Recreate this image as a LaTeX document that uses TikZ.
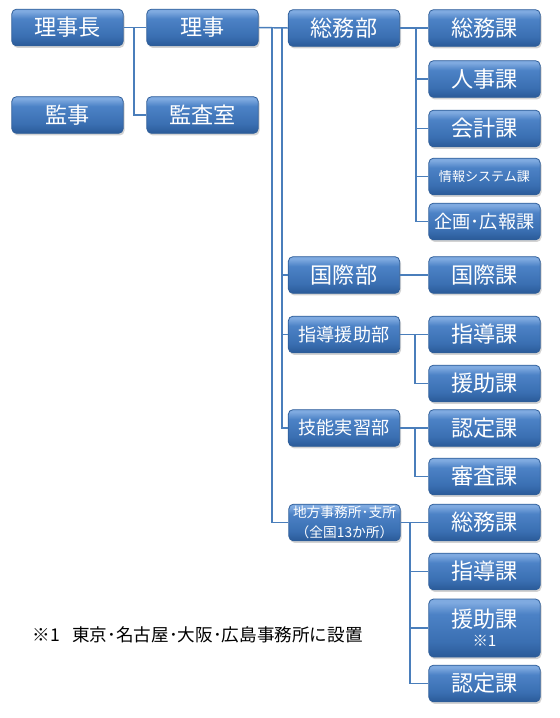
\documentclass[tikz,border=0pt]{standalone}
\usepackage{fontspec}
\newfontfamily\jpfont{Noto Sans CJK JP}
\usepackage{xcolor}
\definecolor{boxtop}{HTML}{7FAAE0}
\definecolor{boxmid}{HTML}{4C82C6}
\definecolor{boxlow}{HTML}{3A6FB2}
\definecolor{boxbot}{HTML}{2A5A98}
\definecolor{boxedge}{HTML}{2F5E99}
\definecolor{linkblue}{HTML}{4A7EBB}
\usetikzlibrary{shadows,calc}
\pgfdeclareverticalshading{gloss}{100bp}{color(0bp)=(boxbot); color(25bp)=(boxbot); color(38bp)=(boxlow); color(62bp)=(boxmid); color(72bp)=(boxtop); color(100bp)=(boxtop)}
\tikzset{
  unit/.style={draw=boxedge,line width=0.6pt,rounded corners=3.5pt,shading=gloss,
    text=white,font=\jpfont\fontsize{16.6}{18}\selectfont,
    minimum width=83.5pt,minimum height=27.5pt,inner sep=0pt,align=center,
    drop shadow={opacity=0.35,shadow xshift=1pt,shadow yshift=-1.6pt}},
  midunit/.style={unit,font=\jpfont\fontsize{13.6}{15}\selectfont},
  link/.style={draw=linkblue,line width=1.1pt}
}
\begin{document}
\begin{tikzpicture}[x=0.75pt,y=-0.75pt]
  \useasboundingbox (0,0) rectangle (560,718);
  % top management
  \node[unit] (rijicho) at (67.5,27.5) {理事長};
  \node[unit] (riji) at (202.5,27.5) {理事};
  \node[unit] (kanji) at (67.5,115) {監事};
  \node[unit] (kansashitsu) at (202.5,115) {監査室};
  % departments
  \node[unit] (somubu) at (344,28) {総務部};
  \node[unit] (kokusaibu) at (344,275) {国際部};
  \node[midunit] (shidobu) at (344,334.5) {指導援助部};
  \node[midunit] (ginobu) at (344,428) {技能実習部};
  \node[unit,font=\jpfont\fontsize{10.3}{14.5}\selectfont] (chiho) at (344.5,522.5) {地方事務所･支所\\（全国13か所）};
  % sections of 総務部
  \node[unit] (somuka) at (484.5,28) {総務課};
  \node[unit] (jinjika) at (484.5,79) {人事課};
  \node[unit] (kaikeika) at (484.5,128.5) {会計課};
  \node[unit,font=\jpfont\fontsize{9.8}{11}\selectfont] (johoka) at (484.5,176.5) {情報システム課};
  \node[midunit] (kikakuka) at (484.5,221.5) {企画･広報課};
  % other sections
  \node[unit] (kokusaika) at (484.5,275) {国際課};
  \node[unit] (shidoka) at (484.5,334.5) {指導課};
  \node[unit] (enjoka) at (484.5,383.5) {援助課};
  \node[unit] (ninteika) at (484.5,428) {認定課};
  \node[unit] (shinsaka) at (484.5,476.5) {審査課};
  % sections of regional offices
  \node[unit] (csomuka) at (484.5,522.5) {総務課};
  \node[unit] (cshidoka) at (484.5,571.5) {指導課};
  \node[unit,minimum height=43.5pt] (cenjoka) at (484.5,628) {援助課\\[-4pt]{\fontsize{11.5}{12}\selectfont ※1}};
  \node[unit] (cninteika) at (484.5,683.5) {認定課};
  % footnote
  \node[anchor=west,font=\jpfont\fontsize{13.2}{15}\selectfont] (note) at (28,634.5) {※1\hspace{0.7em}東京･名古屋･大阪･広島事務所に設置};
  % bus points
  \coordinate (kbus) at (134,27.5);
  \coordinate (tbusA) at (282,28);
  \coordinate (tbusB) at (272,28);
  \coordinate (sbus) at (416,28);
  \coordinate (dbus) at (415,334.5);
  \coordinate (gbus) at (415,428);
  \coordinate (cbus) at (410,522.5);
  % connectors
  \draw[link] (rijicho.east) -- (riji.west);
  \draw[link] (kbus) |- (kansashitsu.west);
  \draw[link] (riji.east) -- (somubu.west);
  \foreach \d in {kokusaibu,shidobu,ginobu}
    \draw[link] (tbusA) |- (\d.west);
  \draw[link] (tbusB) |- (chiho.west);
  \draw[link] (somubu.east) -- (somuka.west);
  \foreach \s in {jinjika,kaikeika,johoka,kikakuka}
    \draw[link] (sbus) |- (\s.west);
  \draw[link] (kokusaibu.east) -- (kokusaika.west);
  \draw[link] (shidobu.east) -- (shidoka.west);
  \draw[link] (dbus) |- (enjoka.west);
  \draw[link] (ginobu.east) -- (ninteika.west);
  \draw[link] (gbus) |- (shinsaka.west);
  \draw[link] (chiho.east) -- (csomuka.west);
  \foreach \s in {cshidoka,cenjoka,cninteika}
    \draw[link] (cbus) |- (\s.west);
\end{tikzpicture}
\end{document}
